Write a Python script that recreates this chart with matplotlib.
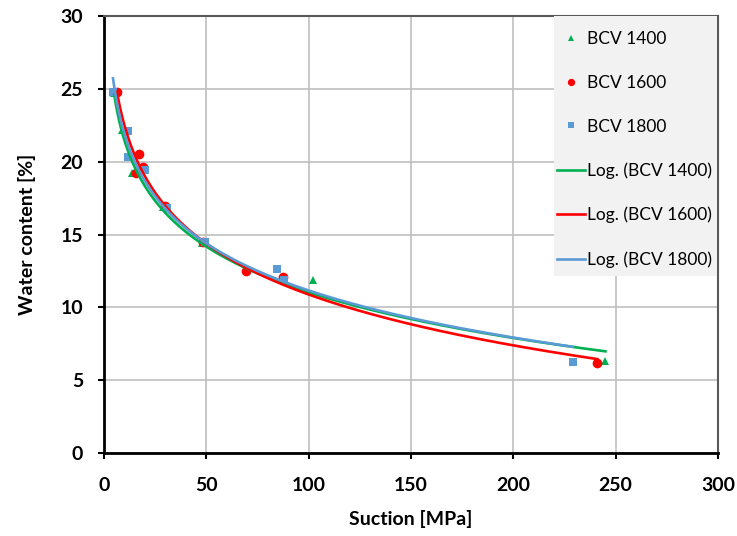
import numpy as np
import matplotlib
matplotlib.use("Agg")
import matplotlib.pyplot as plt
from matplotlib.patches import Rectangle

# Data
bcv1400_x = [5.0, 8.8, 13.7, 28.8, 47.9, 102.0, 245.0]
bcv1400_y = [24.7, 22.2, 19.2, 16.9, 14.4, 11.9, 6.3]

bcv1600_x = [6.3, 15.6, 17.1, 19.0, 29.8, 48.4, 69.4, 87.4, 241.0]
bcv1600_y = [24.8, 19.2, 20.5, 19.6, 16.95, 14.5, 12.5, 12.1, 6.2]

bcv1800_x = [4.4, 11.9, 11.9, 20.0, 30.8, 49.3, 84.5, 88.0, 229.0]
bcv1800_y = [24.8, 22.1, 20.3, 19.4, 16.8, 14.5, 12.6, 11.9, 6.25]

series_names = ["BCV 1400", "BCV 1600", "BCV 1800"]
x_ticks = [0, 50, 100, 150, 200, 250, 300]
y_ticks = [0, 5, 10, 15, 20, 25, 30]

colors = ["#00b050", "#ff0000", "#5b9bd5"]
markers = ["^", "o", "s"]
msizes = [6, 7, 6]

plt.rcParams['font.family'] = ['Lato', 'DejaVu Sans']

fig = plt.figure(figsize=(7.37, 5.36), dpi=100)
W, H = 737, 536
L, R, T, B = 104, 718, 16, 453
ax = fig.add_axes([L / W, (H - B) / H, (R - L) / W, (B - T) / H])

def ax_x(px):
    return (px - L) / (R - L)

def ax_y(py):
    return (B - py) / (B - T)

data = [(bcv1400_x, bcv1400_y), (bcv1600_x, bcv1600_y), (bcv1800_x, bcv1800_y)]

scatter_handles = []
for (xs, ys), c, m, ms, name in zip(data, colors, markers, msizes, series_names):
    h, = ax.plot(xs, ys, linestyle='none', marker=m, color=c, markersize=ms,
                 markeredgewidth=0, label=name, zorder=3)
    scatter_handles.append(h)

line_handles = []
for (xs, ys), c, name in zip(data, colors, series_names):
    xs = np.asarray(xs, float)
    ys = np.asarray(ys, float)
    a, b = np.polyfit(np.log(xs), ys, 1)
    xf = np.linspace(xs.min(), xs.max(), 300)
    h, = ax.plot(xf, a * np.log(xf) + b, color=c, linewidth=1.9,
                 label=f"Log. ({name})", zorder=4)
    line_handles.append(h)

ax.set_xlim(0, 300)
ax.set_ylim(0, 30)
ax.set_xticks(x_ticks)
ax.set_yticks(y_ticks)
ax.grid(True, color="#bfbfbf", linewidth=1.2)
ax.set_axisbelow(True)

for s in ['left', 'bottom']:
    ax.spines[s].set_color('black')
    ax.spines[s].set_linewidth(2.0)
for s in ['top', 'right']:
    ax.spines[s].set_color('#595959')
    ax.spines[s].set_linewidth(1.5)

ax.tick_params(axis='both', direction='out', length=4, width=1.5,
               labelsize=14, color='black')
ax.tick_params(axis='x', pad=13)
ax.tick_params(axis='y', pad=11)
for lab in ax.get_xticklabels() + ax.get_yticklabels():
    lab.set_fontweight('bold')

ax.set_xlabel("Suction [MPa]", fontsize=14, fontweight='bold', labelpad=12)
ax.set_ylabel("Water content [%]", fontsize=14, fontweight='bold', labelpad=18)

# legend background box
bg = Rectangle((ax_x(554), ax_y(276)), ax_x(717) - ax_x(554), ax_y(16) - ax_y(276),
               transform=ax.transAxes, facecolor='#f2f2f2', edgecolor='none',
               zorder=5)
ax.add_patch(bg)

leg = ax.legend(handles=scatter_handles + line_handles, loc='upper left',
                bbox_to_anchor=(ax_x(557), ax_y(31)), frameon=False,
                fontsize=12.5, labelspacing=1.6, handlelength=1.6,
                handletextpad=0.1, borderpad=0.0, borderaxespad=0.0,
                markerscale=0.75)
leg.set_zorder(6)

fig.savefig("out.png", dpi=100)
